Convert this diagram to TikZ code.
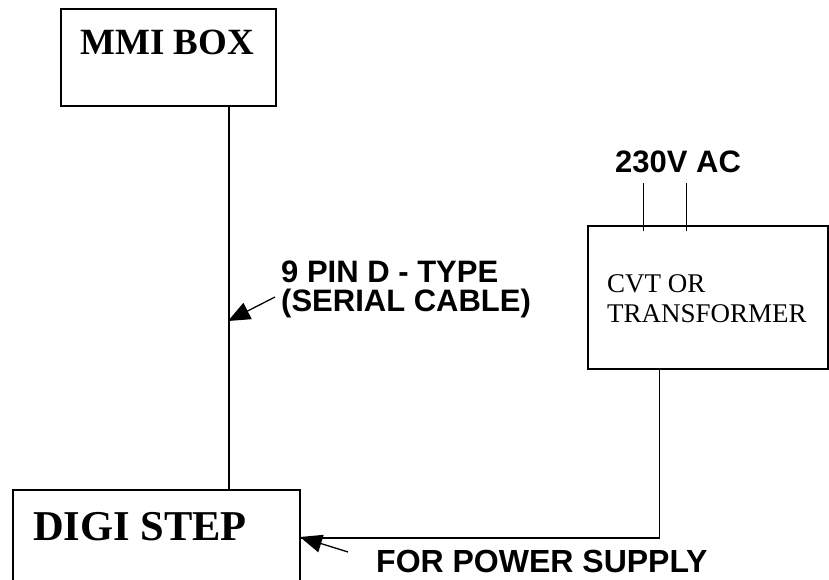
\documentclass[tikz,border=0pt]{standalone}
\usepackage{fontspec}
\setmainfont{Liberation Serif}
\newfontfamily\arialfont{Liberation Sans}
\usetikzlibrary{arrows.meta,calc}
\begin{document}
\begin{tikzpicture}[x=1pt,y=-1pt,
  blockbox/.style={draw,line width=1.8pt,inner sep=0pt,anchor=north west},
  wire/.style={line width=1.4pt},
  pointer/.style={line width=1.3pt,-{Triangle[length=22pt,width=18pt]}},
  sanslabel/.style={font=\arialfont\bfseries\fontsize{31}{29}\selectfont,inner sep=0pt,anchor=base west,align=left},
]
\useasboundingbox (0,0) rectangle (829,580);
\clip (0,0) rectangle (829,580);
% boxes
\node[blockbox,minimum width=215pt,minimum height=97pt] (mmi) at (60,8) {};
\node[font=\bfseries\fontsize{37}{40}\selectfont,inner sep=0pt,anchor=base] (mmitext) at (167,55) {MMI BOX};
\node[blockbox,minimum width=287pt,minimum height=96pt] (digi) at (12,489) {};
\node[font=\bfseries\fontsize{42.5}{46}\selectfont,inner sep=0pt,anchor=base west] (digitext) at (33,540) {DIGI STEP};
\node[blockbox,minimum width=240pt,minimum height=143pt] (cvt) at (587,225) {};
\node[font=\fontsize{27}{30}\selectfont,inner sep=0pt,anchor=base west,align=left] (cvttext) at (607,322) {CVT OR\\TRANSFORMER};
% labels
\node[sanslabel] (ac) at (615,172) {230V AC};
\node[sanslabel] (serial) at (281,311) {9 PIN D - TYPE\\(SERIAL CABLE)};
\node[sanslabel,font=\arialfont\bfseries\fontsize{32}{30}\selectfont,text depth=0pt] (power) at (376,572) {FOR POWER SUPPLY};
% connectors
\draw[wire] ([xshift=60.5pt]mmi.south) -- ([xshift=60.5pt]mmi.south |- digi.north);
\draw[wire] ([xshift=-48.5pt]cvt.south) |- (digi.east);
\draw[wire] ([xshift=-64.5pt,yshift=-6pt]cvt.north) -- ++(0,-48);
\draw[wire] ([xshift=-21.5pt,yshift=-6pt]cvt.north) -- ++(0,-48);
% pointers
\coordinate (serialtail) at (275,297);
\coordinate (serialtip) at (228,321);
\draw[pointer] (serialtail) -- (serialtip);
\coordinate (powertail) at (348,552);
\coordinate (powertip) at (300,537);
\draw[pointer] (powertail) -- (powertip);
\end{tikzpicture}
\end{document}
